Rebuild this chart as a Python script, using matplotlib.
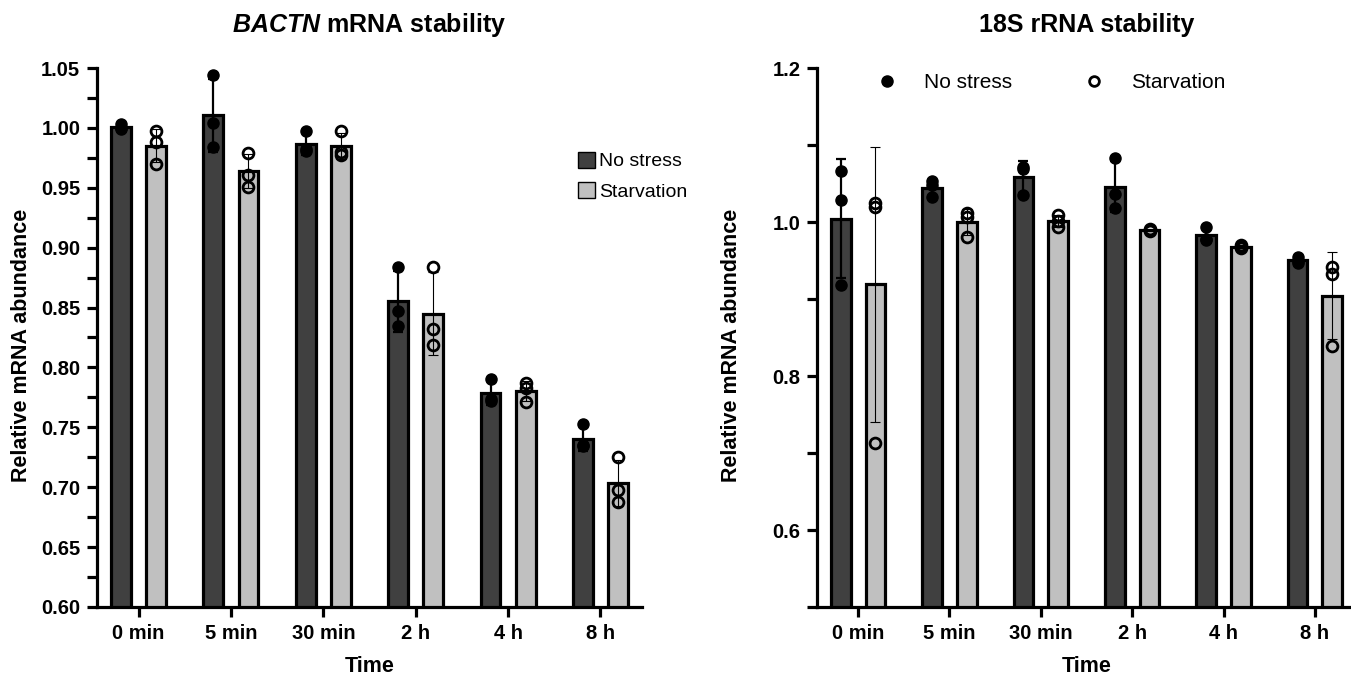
import numpy as np
import matplotlib
matplotlib.use('Agg')
import matplotlib.pyplot as plt
from matplotlib.patches import Patch
from matplotlib.lines import Line2D
from matplotlib.ticker import MultipleLocator, FormatStrFormatter

plt.rcParams['font.family'] = ['Liberation Sans', 'DejaVu Sans']
plt.rcParams['mathtext.fontset'] = 'custom'
plt.rcParams['mathtext.bfit'] = 'Liberation Sans:italic:bold'

times = ['0 min', '5 min', '30 min', '2 h', '4 h', '8 h']

# BACTN replicates (3 per time point)
bactn_ns = [[1.003, 1.000, 0.999], [1.044, 1.004, 0.984], [0.997, 0.982, 0.981],
            [0.884, 0.847, 0.835], [0.790, 0.774, 0.772], [0.753, 0.735, 0.734]]
bactn_st = [[0.997, 0.988, 0.970], [0.979, 0.961, 0.951], [0.997, 0.980, 0.977],
            [0.884, 0.832, 0.819], [0.787, 0.783, 0.771], [0.725, 0.698, 0.688]]

# 18S replicates
r18s_ns = [[1.066, 1.029, 0.918], [1.053, 1.048, 1.033], [1.072, 1.069, 1.035],
           [1.083, 1.037, 1.018], [0.993, 0.978, 0.977], [0.955, 0.950, 0.947]]
r18s_st = [[1.025, 1.019, 0.713], [1.012, 1.007, 0.981], [1.009, 1.001, 0.994],
           [0.991, 0.989, 0.988], [0.970, 0.968, 0.966], [0.941, 0.932, 0.839]]

dark = '#404040'
light = '#c0c0c0'
W, H = 1351, 681
bw = 0.215
off = 0.19


def draw(ax, ns, st, ylim, major, minor):
    x = np.arange(len(times))
    for reps, dx, col, filled, elw in [(ns, -off, dark, True, 1.6), (st, off, light, False, 0.8)]:
        reps = np.array(reps)
        m = reps.mean(axis=1)
        sd = reps.std(axis=1, ddof=1)
        ax.bar(x + dx, m, width=bw, color=col, edgecolor='black', linewidth=2.3, zorder=2)
        ax.errorbar(x + dx, m, yerr=sd, fmt='none', ecolor='black', elinewidth=elw,
                    capsize=3.5, capthick=elw, zorder=3)
        for i in range(len(x)):
            xs = np.full(reps.shape[1], x[i] + dx)
            if filled:
                ax.plot(xs, reps[i], 'o', ms=8, mfc='black', mec='black', zorder=4)
            else:
                ax.plot(xs, reps[i], 'o', ms=7.8, mfc='none', mec='black', mew=2, zorder=4)
    ax.set_ylim(*ylim)
    ax.set_xlim(-0.45, 5.45)
    ax.set_xticks(x)
    ax.set_xticklabels(times)
    ax.yaxis.set_major_locator(MultipleLocator(major))
    ax.yaxis.set_minor_locator(MultipleLocator(minor))
    ax.spines['top'].set_visible(False)
    ax.spines['right'].set_visible(False)
    ax.spines['left'].set_linewidth(2.3)
    ax.spines['bottom'].set_linewidth(2.3)
    ax.tick_params(axis='both', which='major', length=7, width=2.3, labelsize=14.5, pad=5)
    ax.tick_params(axis='y', which='minor', length=7, width=2.3)
    ax.tick_params(axis='x', which='minor', bottom=False)
    for lab in ax.get_xticklabels() + ax.get_yticklabels():
        lab.set_fontweight('bold')
    ax.set_xlabel('Time', fontsize=15.5, fontweight='bold')
    ax.set_ylabel('Relative mRNA abundance', fontsize=15.5, fontweight='bold')
    ax.xaxis.set_label_coords(0.5, -0.09)
    ax.yaxis.set_label_coords(-0.12, 0.485)


fig = plt.figure(figsize=(W / 100, H / 100), dpi=100)
ax1 = fig.add_axes([97 / W, 1 - 607 / H, 545 / W, 539 / H])
ax2 = fig.add_axes([817 / W, 1 - 607 / H, 539 / W, 539 / H])

draw(ax1, bactn_ns, bactn_st, (0.60, 1.05), 0.05, 0.025)
ax1.yaxis.set_major_formatter(FormatStrFormatter('%.2f'))
draw(ax2, r18s_ns, r18s_st, (0.5, 1.2), 0.2, 0.1)
ax2.set_yticks([0.6, 0.8, 1.0, 1.2])
ax2.yaxis.set_major_formatter(FormatStrFormatter('%.1f'))
ax2.yaxis.set_label_coords(-0.14, 0.485)

fig.text(369 / W, 1 - 25 / H, r'$\mathbfit{BACTN}$ mRNA stability', ha='center', va='center',
         fontsize=18, fontweight='bold')
fig.text(1087 / W, 1 - 25 / H, '18S rRNA stability', ha='center', va='center',
         fontsize=18, fontweight='bold')

ax1.legend(handles=[Patch(facecolor=dark, edgecolor='black', linewidth=1, label='No stress'),
                    Patch(facecolor=light, edgecolor='black', linewidth=1, label='Starvation')],
           loc='upper left', bbox_to_anchor=(0.882, 0.845), frameon=False, fontsize=14,
           handlelength=0.9, handleheight=0.9, handletextpad=0.2, borderpad=0,
           borderaxespad=0, labelspacing=0.6)

ax2.legend(handles=[Line2D([], [], ls='none', marker='o', ms=8, mfc='black', mec='black', label='No stress'),
                    Line2D([], [], ls='none', marker='o', ms=7, mfc='none', mec='black', mew=2, label='Starvation')],
           loc='upper left', bbox_to_anchor=(0.11, 0.99), frameon=False, fontsize=15, ncol=2,
           handlelength=1, handletextpad=1.3, columnspacing=3.4, borderpad=0, borderaxespad=0)

fig.savefig('out.png', dpi=100)
